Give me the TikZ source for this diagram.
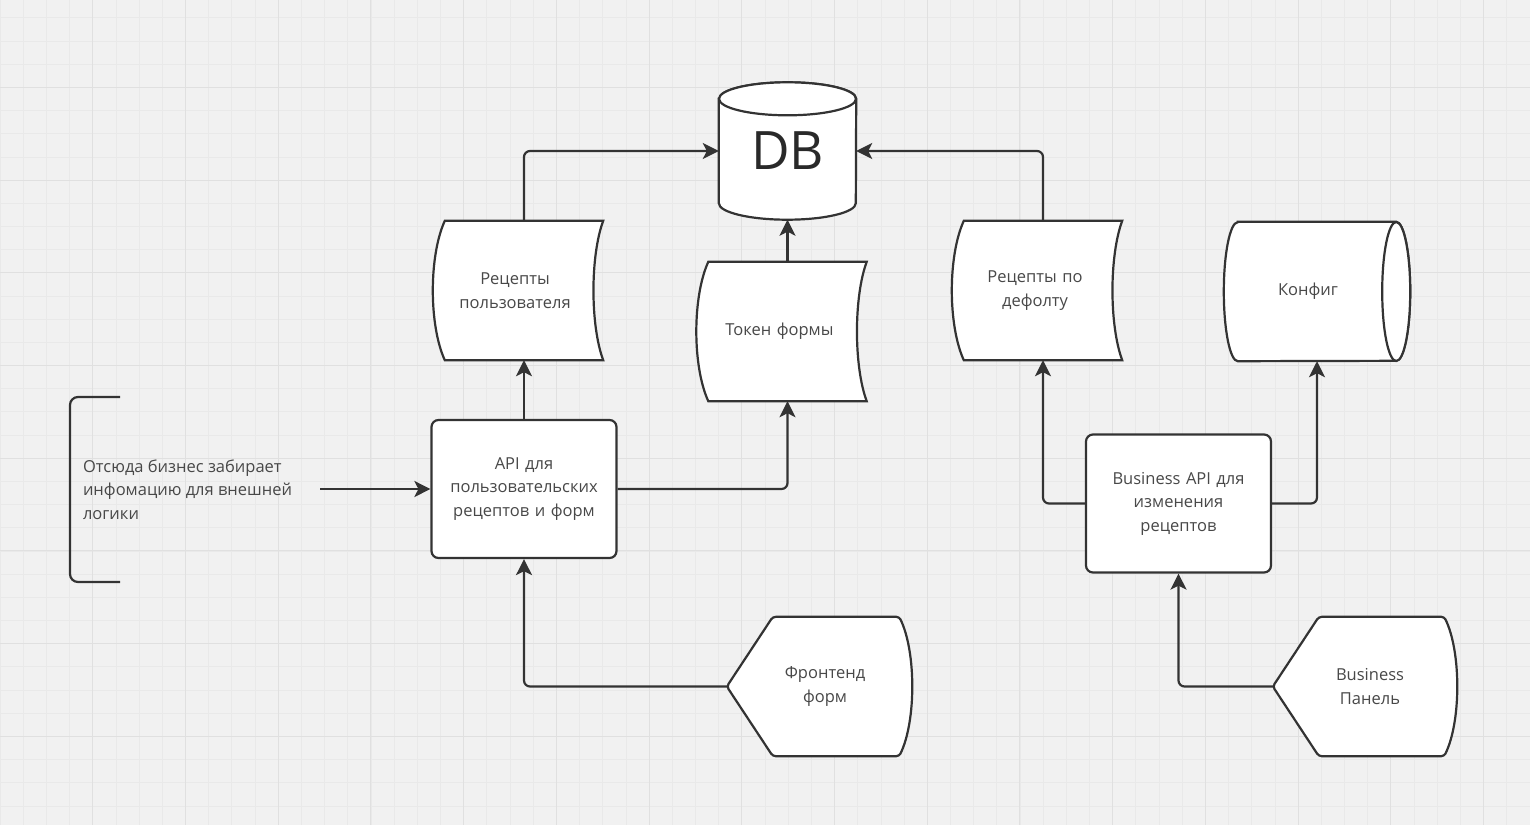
\documentclass[tikz,border=0pt]{standalone}
\usepackage{fontspec}
\setmainfont{Open Sans}
\usetikzlibrary{positioning, calc, arrows.meta, backgrounds}

\definecolor{ink}{HTML}{333333}
\definecolor{labelgrey}{HTML}{484848}
\definecolor{board}{HTML}{F1F1F1}
\definecolor{minorline}{HTML}{E9E9E9}
\definecolor{majorline}{HTML}{E0E0E0}

\newcommand{\storedshape}[1]{%
	\draw[outline] (#1.north west) -- (#1.north east)
		.. controls ($(#1.north east)+(-13,35)$) and ($(#1.south east)+(-13,-35)$) .. (#1.south east)
		-- (#1.south west)
		.. controls ($(#1.south west)+(-16,-35)$) and ($(#1.north west)+(-16,35)$) .. cycle;}
\newcommand{\displayshape}[1]{%
	\draw[outline, rounded corners=3pt] (#1.west) -- ($(#1.north west)+(46,0)$) -- ($(#1.north east)+(-13,0)$)
		.. controls ($(#1.north east)+(4,35)$) and ($(#1.south east)+(4,-35)$) .. ($(#1.south east)+(-13,0)$)
		-- ($(#1.south west)+(46,0)$) -- cycle;}

\begin{document}
\begin{tikzpicture}[
	x=1pt, y=-1pt,
	every node/.style={font=\fontsize{16.5}{23.5}\selectfont, text=labelgrey},
	outline/.style={draw=ink, line width=2.2pt, fill=white},
	box/.style={outline, rounded corners=7pt, minimum width=185pt, minimum height=138pt, text width=175pt, align=center},
	holder/.style={minimum width=158pt, minimum height=139pt, text width=150pt, align=center, inner sep=0pt},
	toleft/.style={execute at begin node={\advance\rightskip by #1}},
	toright/.style={execute at begin node={\advance\leftskip by #1}},
	conn/.style={draw=ink, line width=2.2pt, rounded corners=6pt, -{Stealth[length=16pt, width=16pt, inset=4pt]}},
	minorgrid/.style={draw=minorline, line width=0.7pt},
	majorgrid/.style={draw=majorline, line width=1pt}
	]
	\useasboundingbox (0,0) rectangle (1530,825);

	\node[holder, minimum width=137pt, minimum height=137pt, text width=130pt, font=\fontsize{53}{60}\selectfont, text=ink!80!black] (db) at (787.5,151) {DB};
	\node[holder, toleft=18pt] (userrec) at (524,290.5) {Рецепты\\пользователя};
	\node[holder, toleft=16pt] (token) at (787.5,331.5) {Токен формы};
	\node[holder, toleft=16pt] (defrec) at (1043,290.5) {Рецепты по\\дефолту};
	\node[holder, toleft=18pt] (cfg) at (1317,291.5) {Конфиг};
	\node[box] (api) at (524,489) {API для\\пользовательских\\рецептов и форм};
	\node[box] (bapi) at (1178.5,503.5) {Business API для\\изменения\\рецептов};
	\node[holder, minimum width=185pt, toright=11pt] (front) at (819.5,686.5) {Фронтенд\\форм};
	\node[holder, minimum width=184pt, toright=10pt] (panel) at (1365,686.5) {Business\\Панель};
	\node[align=left, anchor=west] (note) at (79.5,489.5) {Отсюда бизнес забирает\\инфомацию для внешней\\логики};
	\coordinate (src) at (320,489);

	\begin{scope}[on background layer]
		\fill[board] (0,0) rectangle (1530,825);
		\foreach \i in {0,...,66}
			\draw[minorgrid] ({\i*23.18},0) -- ({\i*23.18},825);
		\foreach \j in {1,...,36}
			\draw[minorgrid] (0,{\j*23.18-5.4}) -- (1530,{\j*23.18-5.4});
		\foreach \i in {1,...,16}
			\draw[majorgrid] ({\i*92.72},0) -- ({\i*92.72},825);
		\foreach \j in {1,...,8}
			\draw[majorgrid] (0,{\j*92.72-5.4}) -- (1530,{\j*92.72-5.4});

		% database
		\draw[outline] ($(db.north west)+(0,16.5)$) -- ($(db.south west)+(0,-16.5)$)
			arc[start angle=180, end angle=0, x radius=68.5, y radius=16.5]
			-- ($(db.north east)+(0,16.5)$)
			arc[start angle=0, end angle=-180, x radius=68.5, y radius=16.5] -- cycle;
		\draw[outline] ($(db.north)+(0,16.5)$) ellipse[x radius=68.5, y radius=16.5];

		\storedshape{userrec}
		\storedshape{token}
		\storedshape{defrec}

		% config
		\draw[outline] (cfg.north west) -- (cfg.north east)
			arc[start angle=-90, end angle=90, x radius=14, y radius=69.5]
			-- (cfg.south west)
			arc[start angle=90, end angle=270, x radius=14, y radius=69.5] -- cycle;
		\draw[outline] (cfg.east) ellipse[x radius=14, y radius=69.5];

		\displayshape{front}
		\displayshape{panel}
	\end{scope}

	\draw[draw=ink, line width=2.2pt, rounded corners=8pt] (120,397) -- (70,397) -- (70,582) -- (120,582);

	\draw[conn] (api.north) -- (userrec.south);
	\draw[conn] (userrec.north) |- (db.west);
	\draw[conn] (token.north) -- (db.south);
	\draw[conn] (api.east) -| (token.south);
	\draw[conn] (front.west) -| (api.south);
	\draw[conn] (defrec.north) |- (db.east);
	\draw[conn] (bapi.west) -| (defrec.south);
	\draw[conn] (bapi.east) -| (cfg.south);
	\draw[conn] (panel.west) -| (bapi.south);
	\draw[conn] (src) -- (api.west);
\end{tikzpicture}
\end{document}
